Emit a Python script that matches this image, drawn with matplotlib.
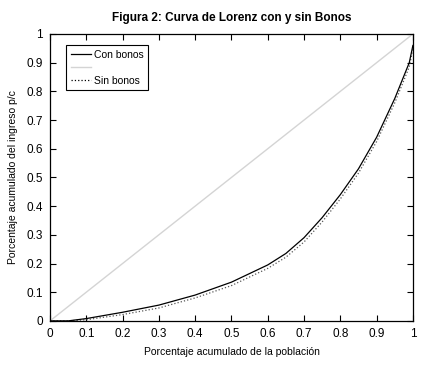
import matplotlib
matplotlib.use("Agg")
import matplotlib.pyplot as plt
from matplotlib.lines import Line2D

plt.rcParams["font.family"] = ["Liberation Sans", "DejaVu Sans"]

# cumulative population share
pob = [0.0, 0.05, 0.1, 0.2, 0.3, 0.4, 0.5, 0.6, 0.65, 0.7, 0.75, 0.8, 0.85, 0.9, 0.95, 0.99, 1.0]
con_bonos = [0.0, 0.0, 0.008, 0.03, 0.055, 0.09, 0.135, 0.195, 0.235, 0.29, 0.36, 0.44, 0.53, 0.64, 0.775, 0.90, 0.96]
sin_bonos = [0.0, 0.0, 0.004, 0.022, 0.045, 0.08, 0.123, 0.183, 0.222, 0.275, 0.345, 0.425, 0.515, 0.625, 0.76, 0.885, 0.95]
igualdad = [0.0, 1.0]
ticks = [0, 0.1, 0.2, 0.3, 0.4, 0.5, 0.6, 0.7, 0.8, 0.9, 1]
tick_labels = ["0", "0.1", "0.2", "0.3", "0.4", "0.5", "0.6", "0.7", "0.8", "0.9", "1"]

fig = plt.figure(figsize=(4.36, 3.82), dpi=100)
ax = fig.add_axes([0.1147, 0.16, 0.8323, 0.751])

ax.plot(igualdad, igualdad, color="#d4d4d4", lw=1.0)
ax.plot(pob, sin_bonos, color="#555555", ls=":", lw=0.9)
ax.plot(pob, con_bonos, color="black", lw=0.9)

ax.set_xlim(0, 1)
ax.set_ylim(0, 1)
ax.set_xticks(ticks, tick_labels)
ax.set_yticks(ticks, tick_labels)
ax.tick_params(direction="in", top=True, right=True, length=4, labelsize=8.5, pad=5)
for s in ax.spines.values():
    s.set_linewidth(0.9)

ax.set_xlabel("Porcentaje acumulado de la población", fontsize=7.5, labelpad=5)
ax.set_ylabel("Porcentaje acumulado del ingreso p/c", fontsize=7.5, labelpad=6)
ax.set_title("Figura 2: Curva de Lorenz con y sin Bonos", fontsize=8.5, fontweight="bold", pad=9)

handles = [
    Line2D([], [], color="black", lw=0.9),
    Line2D([], [], color="#d4d4d4", lw=1.0),
    Line2D([], [], color="black", ls=":", lw=0.9),
]
leg = ax.legend(handles, ["Con bonos", "", "Sin bonos"], loc="upper left",
                bbox_to_anchor=(0.045, 0.96), fontsize=7.5, fancybox=False,
                framealpha=1, edgecolor="black", handlelength=2.0,
                labelspacing=0.3, borderpad=0.4, handletextpad=0.3,
                borderaxespad=0)
leg.get_frame().set_linewidth(0.8)

fig.savefig("out.png", dpi=100)
